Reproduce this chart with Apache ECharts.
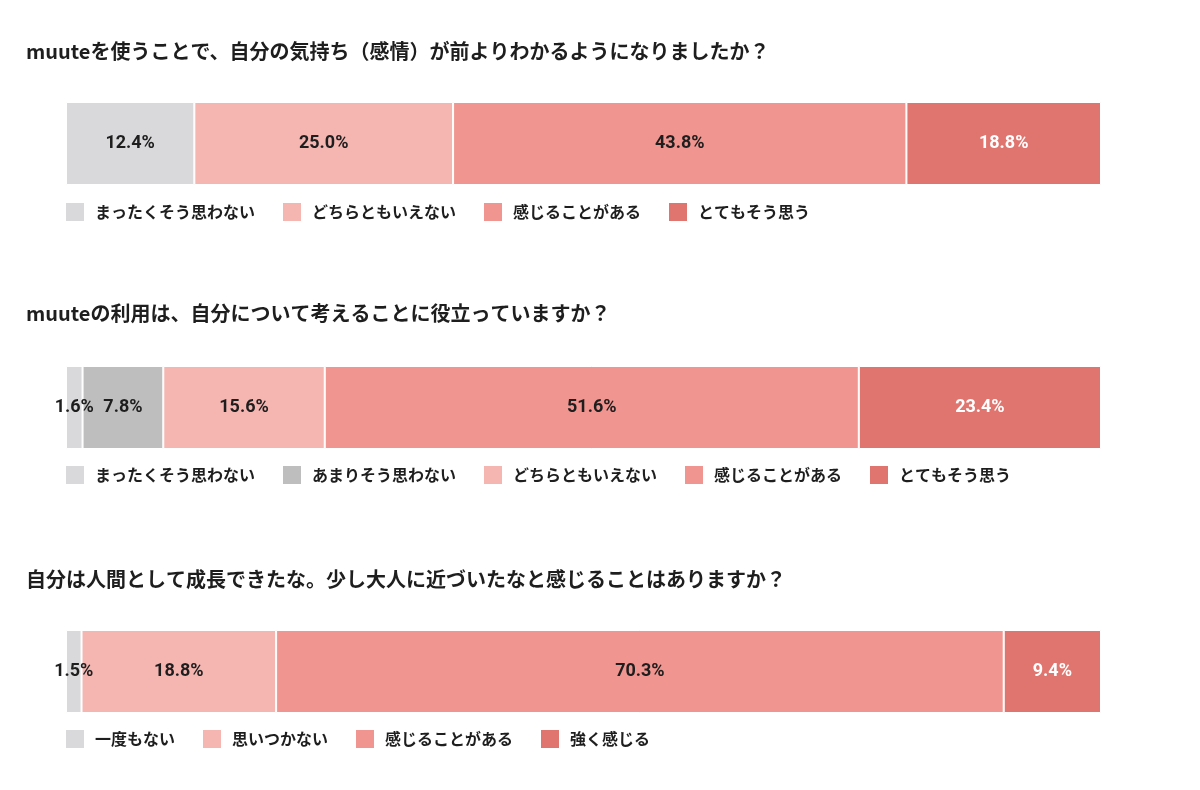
<!DOCTYPE html>
<html>
<head>
<meta charset="utf-8">
<script src="https://cdn.jsdelivr.net/npm/echarts@6/dist/echarts.min.js"></script>
<style>
  html, body { margin: 0; padding: 0; background: #fff; }
  #main { width: 1200px; height: 790px; }
</style>
</head>
<body>
<div id="main"></div>
<script>
// questions
const titles = [
  'muuteを使うことで、自分の気持ち（感情）が前よりわかるようになりましたか？',
  'muuteの利用は、自分について考えることに役立っていますか？',
  '自分は人間として成長できたな。少し大人に近づいたなと感じることはありますか？'
]

// answers per question
const answers1 = ['まったくそう思わない', 'どちらともいえない', '感じることがある', 'とてもそう思う']
const answers2 = ['まったくそう思わない', 'あまりそう思わない', 'どちらともいえない', '感じることがある', 'とてもそう思う']
const answers3 = ['一度もない', '思いつかない', '感じることがある', '強く感じる']

// share (%) per answer
const values1 = [12.4, 25.0, 43.8, 18.8]
const values2 = [1.6, 7.8, 15.6, 51.6, 23.4]
const values3 = [1.5, 18.8, 70.3, 9.4]

const colors1 = ['#d9d8db', '#f5b6b2', '#f0958f', '#e0756f']
const colors2 = ['#d9d8db', '#bfbebe', '#f5b6b2', '#f0958f', '#e0756f']
const colors3 = ['#d9d8db', '#f5b6b2', '#f0958f', '#e0756f']

const blocks = [
  { answers: answers1, values: values1, colors: colors1, titleTop: 41, barTop: 102, legendTop: 203 },
  { answers: answers2, values: values2, colors: colors2, titleTop: 303, barTop: 366, legendTop: 466 },
  { answers: answers3, values: values3, colors: colors3, titleTop: 569, barTop: 630, legendTop: 730 }
]

const option = {
  backgroundColor: '#fff',
  animation: false,
  title: [],
  legend: [],
  grid: [],
  xAxis: [],
  yAxis: [],
  series: []
}

blocks.forEach((b, i) => {
  option.title.push({
    text: titles[i],
    left: 26,
    top: b.titleTop,
    padding: 0,
    textStyle: { fontFamily: 'Noto Sans CJK JP', fontSize: 20, fontWeight: 'bold', color: '#1e1e1e' }
  })
  option.grid.push({ left: 66, right: 99, top: b.barTop, height: 83 })
  option.xAxis.push({ gridIndex: i, type: 'value', min: 0, max: 100, show: false })
  option.yAxis.push({ gridIndex: i, type: 'category', data: ['q' + i], show: false })
  option.legend.push({
    left: 66,
    top: b.legendTop,
    padding: 0,
    itemWidth: 18,
    itemHeight: 18,
    itemGap: 28,
    icon: 'rect',
    itemStyle: { borderWidth: 0 },
    data: b.answers.map((name, k) => ({ name: name, itemStyle: { color: b.colors[k], borderWidth: 0 } })),
    textStyle: { fontFamily: 'Noto Sans CJK JP', fontSize: 16, fontWeight: 'bold', color: '#1e1e1e', padding: [0, 0, 0, 6] }
  })
  b.answers.forEach((name, k) => {
    const last = k === b.answers.length - 1
    option.series.push({
      name: name,
      type: 'bar',
      xAxisIndex: i,
      yAxisIndex: i,
      stack: 'q' + i,
      barWidth: '100%',
      data: [b.values[k]],
      itemStyle: { color: b.colors[k], borderColor: '#fff', borderWidth: 1 },
      label: {
        show: true,
        position: 'inside',
        formatter: p => p.value.toFixed(1) + '%',
        fontFamily: 'Roboto',
        fontSize: 18,
        fontWeight: 'bold',
        color: last ? '#fff' : '#1e1e1e'
      },
      emphasis: { disabled: true }
    })
  })
})

const chart = echarts.init(document.getElementById('main'))
chart.setOption(option)
</script>
</body>
</html>
